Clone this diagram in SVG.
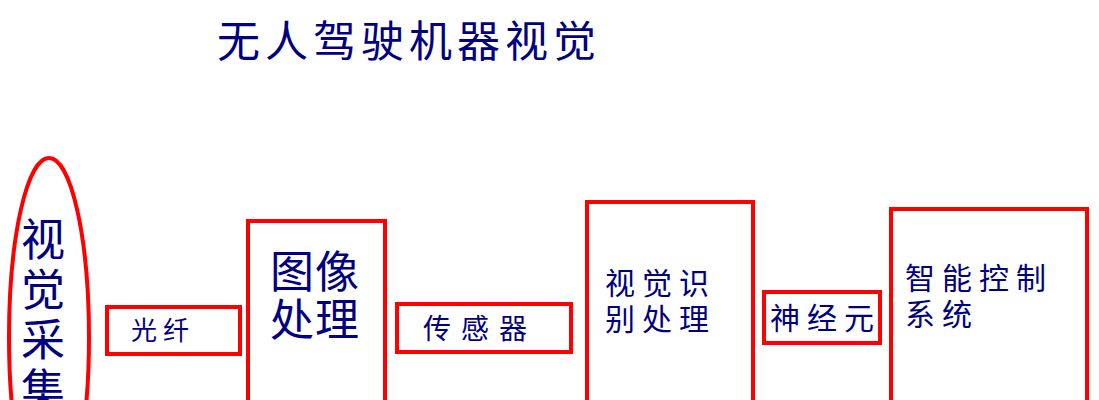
<svg xmlns="http://www.w3.org/2000/svg" width="1099" height="400" viewBox="0 0 1099 400">
<style>
.box{fill:none;stroke:#FF0000;stroke-width:4}
text{font-family:"Noto Sans CJK SC","Liberation Sans",sans-serif;fill:#000080}
</style>
<rect width="1099" height="400" fill="#FFFFFF"/>
<text id="title" x="217" y="57" font-size="43" letter-spacing="5">无人驾驶机器视觉</text>
<g id="connectors"></g>
<g id="n1">
<ellipse class="box" cx="49" cy="337" rx="40" ry="179" stroke-width="3"/>
<text font-size="44" x="21"><tspan x="21" y="256">视</tspan><tspan x="21" y="306">觉</tspan><tspan x="21" y="356">采</tspan><tspan x="21" y="406">集</tspan></text>
</g>
<g id="n2">
<rect class="box" x="107" y="307" width="133" height="47"/>
<text x="131" y="340" font-size="26" letter-spacing="6">光纤</text>
</g>
<g id="n3">
<rect class="box" x="248" y="221" width="137" height="200"/>
<text font-size="44" letter-spacing="1"><tspan x="270" y="288">图像</tspan><tspan x="270" y="336">处理</tspan></text>
</g>
<g id="n4">
<rect class="box" x="397" y="304" width="174" height="48"/>
<text x="423" y="339" font-size="28" letter-spacing="10">传感器</text>
</g>
<g id="n5">
<rect class="box" x="587" y="202" width="166" height="220"/>
<text font-size="30" letter-spacing="7"><tspan x="605" y="294">视觉识</tspan><tspan x="605" y="330">别处理</tspan></text>
</g>
<g id="n6">
<rect class="box" x="764" y="292" width="116" height="51"/>
<text x="770" y="329" font-size="30" letter-spacing="7">神经元</text>
</g>
<g id="n7">
<rect class="box" x="891" y="209" width="196" height="220"/>
<text font-size="30" letter-spacing="7"><tspan x="905" y="289">智能控制</tspan><tspan x="905" y="325">系统</tspan></text>
</g>
</svg>
